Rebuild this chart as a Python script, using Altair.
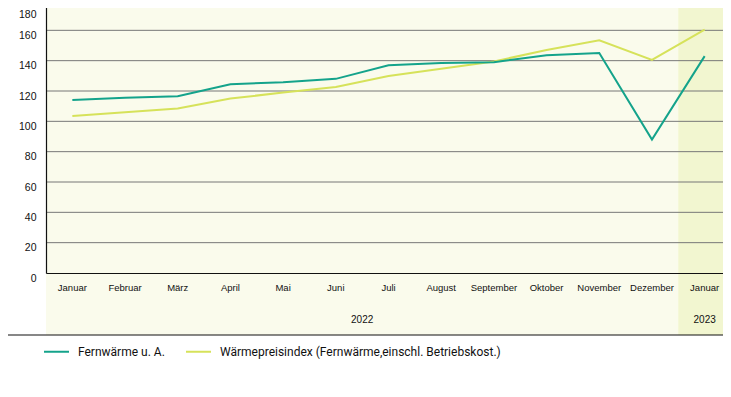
import altair as alt
import pandas as pd

keys = ["Januar 2022", "Februar 2022", "März 2022", "April 2022", "Mai 2022", "Juni 2022",
        "Juli 2022", "August 2022", "September 2022", "Oktober 2022", "November 2022",
        "Dezember 2022", "Januar 2023"]
fernwaerme = [114, 115.5, 116.5, 124.5, 125.8, 128, 137, 138.4, 139, 143.5, 145, 88, 143]
waermepreis = [103.5, 106, 108.5, 115, 119, 122.6, 129.9, 134.7, 139.5, 147, 153.5, 140.5, 160.5]
series = ["Fernwärme u. A.", "Wärmepreisindex (Fernwärme,einschl. Betriebskost.)"]
colors = ["#14a38b", "#d6e25a"]
yticks = [0, 20, 40, 60, 80, 100, 120, 140, 160, 180]
years = ["2022", "2023"]

W, H = 685, 273
BOTTOM = 335

df_f = pd.DataFrame({"key": keys, "value": fernwaerme, "series": series[0]})
df_w = pd.DataFrame({"key": keys, "value": waermepreis, "series": series[1]})
df_grid = pd.DataFrame({"value": yticks[1:]})

xscale = alt.Scale(type="band", domain=keys, paddingInner=0, paddingOuter=0)
yscale = alt.Scale(domain=[0, 180], nice=False, zero=True)
cscale = alt.Scale(domain=series, range=colors)

FONT = "Liberation Sans"

y_axis = alt.Axis(values=yticks, grid=False, ticks=False, domain=True, domainColor="#111111",
                  domainWidth=1.2, labelFont=FONT, labelFontSize=10.5, labelColor="#111111",
                  labelBaseline="top", labelPadding=10, title=None, zindex=1, labelFlush=False,
                  labelOffset={"condition": {"test": "datum.value == 180", "value": 9}, "value": 0})
x_axis = alt.Axis(labelExpr="split(datum.label, ' ')[0]", labelAngle=0, ticks=False, domain=True,
                  domainColor="#111111", domainWidth=1.2, labelFont=FONT, labelFontSize=9.5,
                  labelColor="#111111", labelPadding=9, title=None, zindex=1, grid=False)

bg = alt.Chart(pd.DataFrame({"a": [0]})).mark_rect(color="#fafbec").encode(
    x=alt.value(0), x2=alt.value(W), y=alt.value(0), y2=alt.value(BOTTOM)
)

hl = alt.Chart(pd.DataFrame({"key": [keys[-1]]})).mark_rect(color="#f2f6d0").encode(
    x=alt.X("key:N", scale=xscale, sort=keys, axis=x_axis),
    y=alt.value(0), y2=alt.value(BOTTOM)
)

grid = alt.Chart(df_grid).mark_rule(color="#777777", strokeWidth=1).encode(
    y=alt.Y("value:Q", scale=yscale, axis=y_axis)
)

bottom_line = alt.Chart(pd.DataFrame({"a": [0]})).mark_rule(color="#111111", strokeWidth=1.2).encode(
    x=alt.value(-46), x2=alt.value(W), y=alt.value(BOTTOM)
)

color = alt.Color("series:N", scale=cscale, title=None,
                  legend=alt.Legend(orient="none", legendX=-3, legendY=338, direction="horizontal",
                                    symbolType="stroke", symbolSize=625, symbolStrokeWidth=2,
                                    labelFont="Roboto", labelFontSize=12, labelColor="#111111",
                                    labelOffset=8, columnPadding=17, padding=0, labelLimit=500))

line_w = alt.Chart(df_w).mark_line(strokeWidth=2).encode(
    x=alt.X("key:N", scale=xscale, sort=keys, axis=x_axis),
    y=alt.Y("value:Q", scale=yscale, axis=y_axis),
    color=color,
)
line_f = alt.Chart(df_f).mark_line(strokeWidth=2).encode(
    x=alt.X("key:N", scale=xscale, sort=keys, axis=x_axis),
    y=alt.Y("value:Q", scale=yscale, axis=y_axis),
    color=color,
)

t2022 = alt.Chart(pd.DataFrame({"key": [keys[5]], "t": [years[0]]})).mark_text(
    font=FONT, fontSize=10, color="#111111", baseline="middle").encode(
    x=alt.X("key:N", scale=xscale, sort=keys, bandPosition=1, axis=x_axis), y=alt.value(320), text="t:N")
t2023 = alt.Chart(pd.DataFrame({"key": [keys[-1]], "t": [years[1]]})).mark_text(
    font=FONT, fontSize=10, color="#111111", baseline="middle").encode(
    x=alt.X("key:N", scale=xscale, sort=keys, bandPosition=0.5, axis=x_axis), y=alt.value(320), text="t:N")

chart = alt.layer(bg, hl, grid, bottom_line, t2022, t2023, line_w, line_f).properties(
    width=W, height=H,
    autosize=alt.AutoSizeParams(type="none"),
    padding={"left": 38, "top": -8, "right": -8, "bottom": 124},
).configure_view(stroke=None)

chart.save("out.html", embed_options={"renderer": "svg", "actions": False})
